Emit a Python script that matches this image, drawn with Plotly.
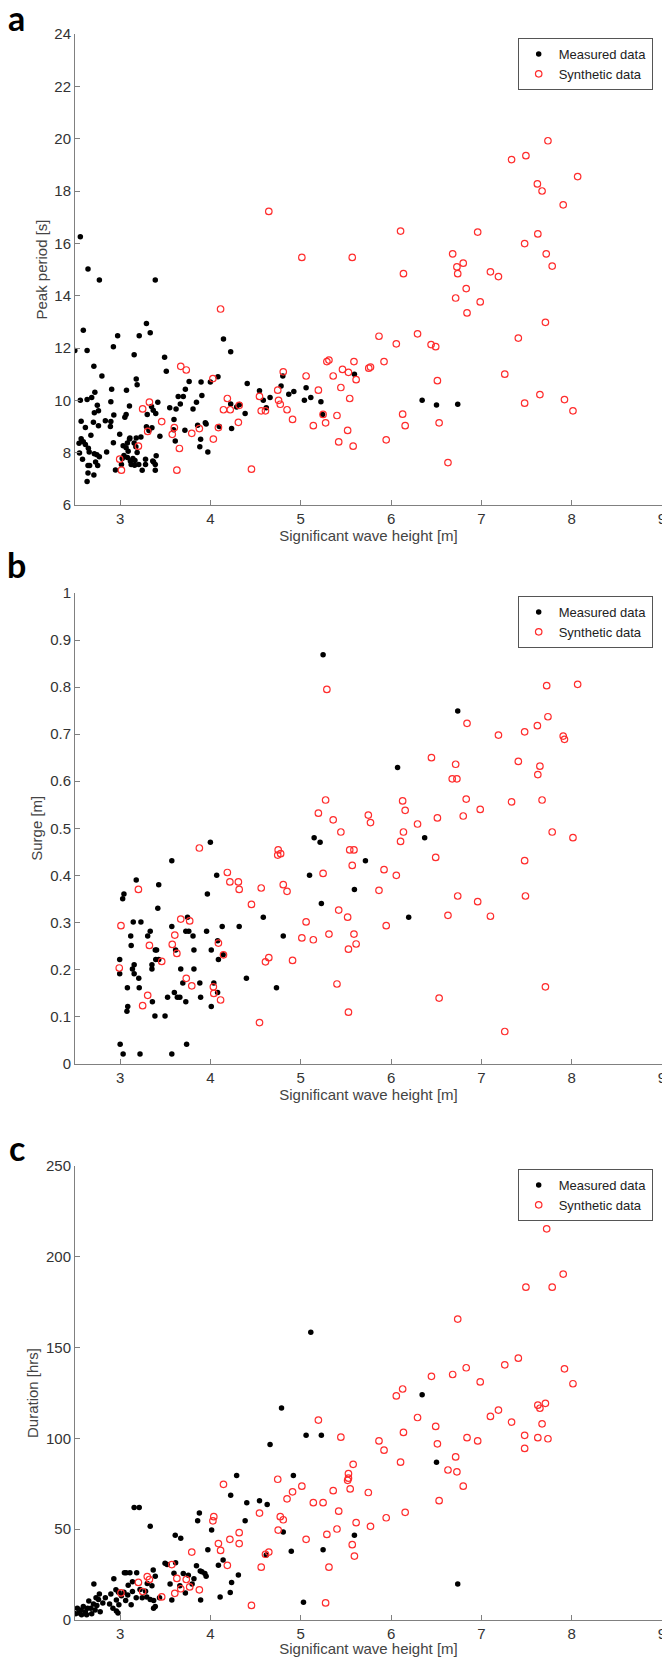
import plotly.graph_objects as go

# ---------------- data ----------------
# Panel a: Peak period vs significant wave height
a_meas_hs = [2.559,2.644,2.77,3.389,2.592,2.634,2.498,2.972,2.925,3.291,3.333,3.211,3.155,3.492,3.511,2.709,2.798,3.178,3.188,3.07,
             2.906,2.72,2.559,2.634,2.685,2.747,2.76,2.714,2.897,3.103,2.93,3.052,3.066,2.836,2.897,2.704,2.568,2.76,2.615,2.892,
             2.995,2.925,2.676,2.568,2.545,2.592,2.615,2.648,2.55,2.657,2.583,2.714,2.742,2.77,2.728,2.662,2.644,2.751,2.709,2.644,
             2.634,2.85,2.948,3.014,3.033,3.066,3.089,3.042,3.023,3.08,3.113,3.08,3.103,3.108,3.155,3.178,3.174,3.188,3.141,3.164,
             3.122,3.16,3.206,3.244,3.281,3.281,3.23,3.3,3.291,3.352,3.319,3.347,3.366,3.394,3.417,3.361,3.389,3.399,3.389,3.37,
             3.44,3.549,3.619,3.596,3.591,3.61,3.666,3.643,3.699,3.722,3.764,3.717,3.807,3.845,3.858,3.896,3.905,3.891,3.882,3.943,
             3.952,3.971,3.999,4.083,4.098,4.144,4.224,4.224,4.234,4.29,4.323,4.384,4.407,4.543,4.585,4.618,4.66,4.782,4.801,4.867,
             4.923,5.04,5.059,5.111,5.223,5.242,5.594,6.344,6.503,6.738]
a_meas_tp = [16.25,15.02,14.6,14.6,12.68,11.9,11.9,12.47,12.05,12.94,12.58,12.47,11.74,11.65,11.11,11.3,10.93,10.82,10.6,10.39,
             10.42,10.31,10.0,10.03,10.11,9.81,9.6,9.53,9.95,9.78,9.44,9.35,9.46,9.22,9.19,9.16,9.2,9.03,8.96,9.0,
             8.70,8.38,8.67,8.53,8.36,8.42,8.31,8.17,7.99,8.03,7.75,7.96,7.92,7.84,7.64,7.51,7.51,7.51,7.15,7.22,
             6.9,8.03,7.34,7.55,8.26,8.19,8.05,7.89,7.78,7.82,7.68,8.37,8.52,8.56,8.37,8.56,8.23,8.01,7.78,7.70,
             7.55,7.52,7.55,7.33,7.55,7.75,8.6,9.46,8.99,8.95,8.85,9.76,9.62,9.50,9.93,7.68,7.55,7.88,7.33,7.64,
             8.63,9.72,9.67,9.27,8.88,8.45,9.86,10.15,10.15,10.42,10.72,8.86,9.67,9.93,9.05,10.7,10.18,8.51,8.23,9.14,
             9.1,8.03,10.7,10.9,9.0,12.34,11.86,9.86,8.92,9.75,9.84,9.5,10.64,10.37,10.0,9.72,10.11,10.55,10.93,10.23,
             10.34,10.0,10.48,10.11,9.95,9.46,11.0,10.0,9.82,9.85]
a_syn_hs = [7.737,7.334,7.493,8.066,7.62,7.672,7.906,4.646,6.105,6.959,7.625,7.479,5.012,5.57,6.682,7.718,6.729,6.799,7.784,6.137,
            6.738,7.10,7.189,6.832,6.715,6.987,4.112,6.841,7.709,5.866,6.293,7.409,6.058,6.443,6.494,5.289,5.312,5.589,5.922,5.753,
            5.772,3.671,3.732,4.806,5.359,5.059,5.462,5.528,7.259,4.027,5.613,6.513,4.745,5.195,5.444,4.187,4.543,5.542,4.754,4.773,
            3.324,3.249,4.318,4.144,4.219,4.562,4.609,4.848,7.479,7.648,7.920,8.014,6.128,5.401,3.460,4.309,4.909,5.275,5.139,6.156,
            6.532,3.60,4.088,3.877,3.305,3.793,3.577,5.519,4.032,5.946,5.42,3.202,3.656,5.58,2.995,3.014,3.628,4.454,6.63,5.247]
a_syn_tp = [19.92,19.20,19.35,18.55,18.27,18.0,17.47,17.22,16.47,16.43,16.36,15.99,15.46,15.46,15.6,15.6,15.1,15.24,15.13,14.84,
            14.84,14.91,14.73,14.27,13.91,13.76,13.49,13.34,12.98,12.45,12.54,12.38,12.16,12.13,12.05,11.48,11.54,11.48,11.48,11.23,
            11.27,11.30,11.16,11.09,10.93,10.93,11.18,11.07,11.0,10.83,10.79,10.75,10.39,10.39,10.49,10.07,10.15,10.07,10.0,9.85,
            9.93,9.67,9.81,9.64,9.64,9.60,9.60,9.64,9.89,10.22,10.03,9.60,9.47,9.42,9.19,9.16,9.27,9.14,9.03,9.03,
            9.14,8.96,8.96,8.92,8.81,8.74,8.70,8.85,8.52,8.49,8.41,8.25,8.16,8.25,7.75,7.33,7.33,7.37,7.62,9.46]

# Panel b: Surge vs significant wave height
b_meas_hs = [5.247,6.738,6.072,6.372,5.148,5.214,3.999,3.572,5.716,5.097,4.069,3.178,3.427,5.594,3.966,3.042,3.028,3.417,5.228,6.195,
             4.585,3.746,3.145,3.23,3.572,4.13,4.318,3.333,3.305,3.727,3.76,3.957,3.117,3.807,4.806,4.079,3.122,3.389,3.403,3.614,
             3.817,4.009,4.14,2.995,3.394,3.427,4.088,3.352,3.155,3.352,3.136,3.671,3.817,2.995,3.155,3.206,4.398,3.694,3.882,4.037,
             3.08,3.211,4.731,3.6,4.079,3.525,3.633,3.661,3.891,3.357,3.727,3.084,4.009,3.075,3.385,3.497,3.0,3.736,3.033,3.22,3.572]
b_meas_s = [0.869,0.749,0.629,0.480,0.480,0.470,0.470,0.431,0.431,0.400,0.400,0.390,0.380,0.370,0.360,0.360,0.350,0.330,0.340,0.311,
            0.311,0.311,0.301,0.301,0.291,0.291,0.291,0.281,0.271,0.281,0.281,0.281,0.271,0.271,0.271,0.261,0.251,0.241,0.241,0.241,
            0.241,0.241,0.231,0.221,0.221,0.221,0.221,0.210,0.210,0.201,0.201,0.201,0.201,0.191,0.191,0.181,0.181,0.171,0.171,0.171,
            0.161,0.161,0.161,0.151,0.151,0.141,0.141,0.141,0.141,0.131,0.131,0.121,0.121,0.111,0.101,0.101,0.041,0.041,0.020,0.020,0.020]
b_syn_hs = [5.289,7.723,8.066,6.841,7.737,7.62,7.189,7.479,7.906,7.92,6.447,7.409,6.715,7.648,7.625,6.677,6.729,5.275,6.128,6.832,
            7.672,7.334,6.156,6.987,5.195,5.748,6.799,5.359,6.513,5.772,6.293,5.444,6.137,7.784,8.014,6.105,3.877,4.75,5.542,5.589,
            4.745,4.777,6.494,7.479,5.57,5.922,4.187,5.247,6.058,4.215,4.309,4.806,3.202,4.318,4.562,4.848,5.866,6.738,7.488,6.959,
            4.454,5.42,7.10,6.63,5.519,3.671,3.77,5.059,3.009,5.946,5.312,5.589,3.605,5.012,5.139,4.088,5.613,3.577,3.324,5.528,
            3.628,4.144,4.646,4.609,4.909,3.46,2.99,3.732,5.401,3.793,7.709,4.032,4.037,3.305,6.532,4.112,3.249,5.528,4.543,7.259]
b_syn_s = [0.795,0.803,0.806,0.723,0.737,0.718,0.698,0.705,0.696,0.689,0.650,0.642,0.636,0.632,0.614,0.605,0.605,0.560,0.558,0.562,
           0.560,0.556,0.538,0.540,0.532,0.528,0.526,0.518,0.522,0.512,0.509,0.492,0.492,0.492,0.480,0.472,0.458,0.454,0.454,0.454,
           0.443,0.446,0.438,0.431,0.421,0.412,0.406,0.404,0.400,0.386,0.386,0.380,0.370,0.370,0.373,0.366,0.368,0.356,0.356,0.344,
           0.338,0.326,0.313,0.315,0.311,0.307,0.303,0.301,0.293,0.293,0.275,0.275,0.273,0.267,0.263,0.256,0.254,0.253,0.251,0.243,
           0.234,0.231,0.225,0.216,0.219,0.217,0.203,0.181,0.169,0.165,0.163,0.163,0.149,0.145,0.139,0.135,0.123,0.109,0.087,0.068]

# Panel c: Duration vs significant wave height
c_meas_hs = [5.111,4.787,6.344,5.059,5.228,4.66,6.503,4.918,4.29,4.224,4.402,4.543,4.628,3.155,3.211,3.877,3.858,4.384,3.333,4.013,
             4.806,5.594,3.61,3.671,4.618,4.895,5.247,3.971,6.738,5.03,4.14,4.088,4.234,4.309,4.219,4.107,3.891,3.572,3.497,3.52,
             3.614,3.553,3.596,3.699,3.755,3.722,3.797,3.817,3.845,3.887,3.905,3.938,3.952,3.661,3.389,3.366,3.352,3.3,3.281,3.22,
             3.136,3.178,3.244,3.295,3.333,3.371,3.389,3.37,3.436,3.047,3.066,3.108,3.183,3.136,3.089,3.042,3.014,3.061,3.084,3.122,
             2.986,2.958,2.93,2.897,2.883,2.92,2.958,2.976,2.953,2.981,2.836,2.808,2.77,2.76,2.709,2.742,2.723,2.779,2.685,2.653,
             2.639,2.615,2.592,2.568,2.545,2.507,2.573,2.629,2.676,2.704,2.733,2.526]
c_meas_d = [158.5,116.8,124.0,101.7,101.7,96.6,86.9,79.6,79.6,68.7,64.6,65.7,63.6,62.0,62.0,58.9,54.6,54.6,51.6,49.5,
            48.5,46.6,46.6,45.0,35.8,37.8,38.7,38.7,19.8,9.8,33.1,30.1,20.7,24.8,15.1,12.7,11.0,11.0,31.3,30.5,
            31.5,19.8,25.8,25.6,24.6,14.9,19.8,22.7,29.9,27.0,26.6,25.6,24.1,18.8,24.1,27.6,18.8,20.1,15.8,16.8,
            15.7,12.3,12.3,12.7,11.3,10.8,7.4,6.5,12.3,26.0,26.0,26.0,26.0,21.1,19.2,15.3,13.3,10.8,13.7,8.4,
            8.4,11.0,22.7,14.3,8.8,6.5,4.9,3.9,16.6,15.3,12.3,9.4,14.3,11.3,19.8,8.0,5.5,4.5,3.5,10.4,
            6.5,4.5,7.4,5.5,3.9,3.5,2.9,2.9,6.5,8.8,12.3,6.5]
c_syn_hs = [7.723,7.906,7.493,7.784,6.738,7.409,7.259,6.832,7.92,6.682,6.447,6.987,8.014,6.128,6.058,7.709,7.625,7.648,7.189,7.10,
            6.293,5.195,7.334,7.672,6.494,6.137,5.444,7.479,6.841,7.625,7.737,5.866,6.959,6.513,5.922,6.715,7.479,6.105,5.58,6.63,
            6.729,5.528,5.528,5.519,6.799,5.012,4.745,4.144,5.547,4.909,5.359,5.748,4.848,5.139,5.247,6.532,4.543,6.156,5.42,4.037,
            4.773,4.027,4.806,5.946,5.613,5.772,4.75,5.401,4.318,5.289,4.215,5.059,4.318,4.088,4.112,5.57,4.646,4.609,5.594,3.793,
            4.187,4.562,5.312,3.572,3.628,3.732,3.3,3.324,3.202,3.77,3.671,3.877,3.249,3.009,3.46,3.605,4.454,5.275]
c_syn_d = [215.4,190.5,183.3,183.3,165.7,144.2,140.5,138.9,138.3,135.2,134.2,131.1,130.1,127.2,123.4,119.3,118.3,116.6,115.6,112.1,
           111.5,110.1,109.0,108.0,106.6,103.3,100.7,101.7,100.4,100.4,99.8,98.6,98.6,97.0,93.5,89.8,94.5,86.9,85.7,82.6,
           81.6,80.6,78.1,76.9,73.7,73.7,77.5,74.7,72.2,70.6,71.2,70.2,66.7,64.6,64.6,65.7,58.9,59.3,59.9,56.9,
           56.9,54.6,55.2,56.3,53.6,51.6,49.5,50.1,48.1,47.1,44.4,44.4,42.1,42.1,38.3,41.5,37.4,36.2,35.2,37.4,
           30.1,29.1,29.1,30.5,22.9,22.3,23.9,22.3,20.7,18.2,17.2,16.6,15.7,14.9,12.7,14.7,8.0,9.4]

# axis ticks / labels
x_ticks = [3, 4, 5, 6, 7, 8, 9]
a_y_ticks = [6, 8, 10, 12, 14, 16, 18, 20, 22, 24]
b_y_ticks = [0, 0.1, 0.2, 0.3, 0.4, 0.5, 0.6, 0.7, 0.8, 0.9, 1]
b_y_labels = ["0", "0.1", "0.2", "0.3", "0.4", "0.5", "0.6", "0.7", "0.8", "0.9", "1"]
c_y_ticks = [0, 50, 100, 150, 200, 250]
series_names = ["Measured data", "Synthetic data"]
panel_letters = ["a", "b", "c"]
y_titles = ["Peak period [s]", "Surge [m]", "Duration [hrs]"]
x_title = "Significant wave height [m]"

# ---------------- figure ----------------
W, H = 662, 1657
ML = 75
PW = W - ML
FONT = "Liberation Sans, Arial, sans-serif"
AX = "#808080"
TXT = "#333333"
RED = "rgb(255,45,45)"

fig = go.Figure()

panels = [
    (a_meas_hs, a_meas_tp, a_syn_hs, a_syn_tp, "x", "y", "legend"),
    (b_meas_hs, b_meas_s, b_syn_hs, b_syn_s, "x2", "y2", "legend2"),
    (c_meas_hs, c_meas_d, c_syn_hs, c_syn_d, "x3", "y3", "legend3"),
]
for mx, my, sx, sy, xa, ya, lg in panels:
    fig.add_trace(go.Scatter(x=mx, y=my, mode="markers", name=series_names[0],
                             xaxis=xa, yaxis=ya, legend=lg,
                             marker=dict(symbol="circle", size=5.5, color="black",
                                         line=dict(width=0))))
    fig.add_trace(go.Scatter(x=sx, y=sy, mode="markers", name=series_names[1],
                             xaxis=xa, yaxis=ya, legend=lg,
                             marker=dict(symbol="circle-open", size=6.5, color=RED,
                                         line=dict(width=1.2, color=RED))))

# pixel layout (top/bottom of each plot area in px from top)
px_tops = [34, 593, 1166]
px_bottoms = [505, 1063.5, 1620]
legend_tops = [38, 596, 1169]
letter_y = [17, 565, 1147]

def dom(top, bot):
    return [1 - bot / H, 1 - top / H]

common_x = dict(range=[2.5, 9], tickvals=x_ticks, ticks="inside", ticklen=5, tickwidth=1,
                tickcolor=AX, showline=True, linecolor=AX, linewidth=1, showgrid=False,
                zeroline=False, mirror=False, ticklabeloverflow="allow", automargin=False,
                tickfont=dict(family=FONT, size=15, color=TXT),
                title=dict(text=x_title, font=dict(family=FONT, size=15, color="#444444"), standoff=3))
common_y = dict(ticks="inside", ticklen=5, tickwidth=1, tickcolor=AX, showline=True,
                linecolor=AX, linewidth=1, showgrid=False, zeroline=False, mirror=False,
                automargin=False,
                tickfont=dict(family=FONT, size=15, color=TXT))

ytick_sets = [
    dict(range=[6, 24], tickvals=a_y_ticks),
    dict(range=[0, 1], tickvals=b_y_ticks, ticktext=b_y_labels),
    dict(range=[0, 250], tickvals=c_y_ticks),
]

layout = dict(template="none", width=W, height=H, margin=dict(l=ML, r=0, t=0, b=0, pad=0),
              paper_bgcolor="white", plot_bgcolor="white", showlegend=True,
              font=dict(family=FONT, size=15, color=TXT))
for i in range(3):
    sfx = "" if i == 0 else str(i + 1)
    layout["xaxis" + sfx] = dict(common_x, domain=[0, 1], anchor="y" + sfx)
    layout["yaxis" + sfx] = dict(common_y, domain=dom(px_tops[i], px_bottoms[i]),
                                 anchor="x" + sfx,
                                 title=dict(text=y_titles[i],
                                            font=dict(family=FONT, size=15, color="#444444"),
                                            standoff=3),
                                 **ytick_sets[i])
    layout["legend" + sfx] = dict(x=(652.7 - ML) / PW, xanchor="right",
                                  y=1 - legend_tops[i] / H, yanchor="top",
                                  bgcolor="white", bordercolor="#555555", borderwidth=1,
                                  font=dict(family=FONT, size=13, color="#222222"),
                                  itemwidth=30, tracegroupgap=0)

fig.update_layout(**layout)

for i, letter in enumerate(panel_letters):
    fig.add_annotation(text="<b>%s</b>" % letter, xref="paper", yref="paper",
                       x=(16.5 - ML) / PW, y=1 - letter_y[i] / H,
                       xanchor="center", yanchor="middle", showarrow=False,
                       font=dict(family="Lato, Open Sans, sans-serif", size=34, color="black"))

fig.write_html("out.html",
               config={"displayModeBar": False},
               post_script="document.body.style.margin='0px';"
                           "document.body.style.padding='0px';"
                           "document.body.style.overflow='hidden';")
